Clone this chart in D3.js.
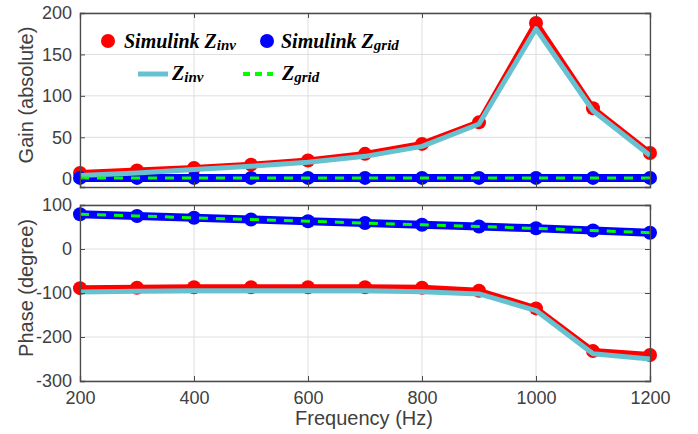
<!DOCTYPE html>
<html><head><meta charset="utf-8">
<script src="https://cdn.jsdelivr.net/npm/d3@7"></script>
<style>body{margin:0;background:#fff}svg{display:block}</style>
</head><body><svg id="c" width="698" height="434"></svg>
<script>
const freq = [200,300,400,500,600,700,800,900,1000,1100,1200];
const gainSimInv = [7,10,13,17,22,30,42,68,188,85,31];
const gainInv = [4,7,11,15,20,27,39,66,181,82,28];
const gainSimGrid = [1,1,1,1,1,1,1,1,1,1,1];
const gainGrid = [1,1,1,1,1,1,1,1,1,1,1];
const phaseSimInv = [-89,-88,-87,-87,-87,-87,-88,-95,-135,-232,-241];
const phaseInv = [-98,-96,-95,-95,-95,-95,-97,-102,-140,-238,-250];
const phaseSimGrid = [79,75,71,67,63,59,55,51,47,42,37];
const phaseGrid = [79,75,71,67,63,59,55,51,47,42,37];
const xTicks = [200,400,600,800,1000,1200];
const gainTicks = [0,50,100,150,200];
const phaseTicks = [-300,-200,-100,0,100];

const svg = d3.select('#c');
const axisCol = '#4a4a4a';
const sansF = 'Liberation Sans, Arial, sans-serif';
const x = d3.scaleLinear().domain([200,1200]).range([80,650]);
const yG = d3.scaleLinear().domain([-10,200]).range([187,13]);
const yP = d3.scaleLinear().domain([-300,100]).range([381,205]);

function panel(y, ticks) {
  const [b,t] = y.range();
  const g = svg.append('g');
  g.selectAll('.gx').data(xTicks).join('line').attr('x1',d=>x(d)).attr('x2',d=>x(d))
    .attr('y1',t).attr('y2',b).attr('stroke','#dedede').attr('stroke-width',1);
  g.selectAll('.gy').data(ticks).join('line').attr('y1',d=>y(d)).attr('y2',d=>y(d))
    .attr('x1',80).attr('x2',650).attr('stroke','#dedede').attr('stroke-width',1);
}
function frame(y, ticks, showX, label) {
  const [b,t] = y.range();
  const g = svg.append('g');
  const ax = g.append('g').attr('transform',`translate(80,0)`).call(d3.axisLeft(y).tickValues(ticks).tickSize(-5).tickPadding(8).tickFormat(d=>String(d)));
  const ax2 = g.append('g').attr('transform',`translate(650,0)`).call(d3.axisRight(y).tickValues(ticks).tickSize(-5).tickFormat(''));
  const bx = g.append('g').attr('transform',`translate(0,${b})`).call(d3.axisBottom(x).tickValues(xTicks).tickSize(-5).tickPadding(10).tickFormat(showX? (d=>String(d)) : ''));
  const tx = g.append('g').attr('transform',`translate(0,${t})`).call(d3.axisTop(x).tickValues(xTicks).tickSize(-5).tickFormat(''));
  [ax,ax2,bx,tx].forEach(a=>{
    a.selectAll('path').attr('stroke',axisCol).attr('stroke-width',1.3);
    a.selectAll('line').attr('stroke',axisCol);
    a.selectAll('text').attr('fill','#404040').style('font-family',sansF).style('font-size','18px');
  });
  g.append('text').attr('transform',`translate(33,${(t+b)/2 - 5}) rotate(-90)`).attr('text-anchor','middle')
    .attr('fill','#404040').style('font-family',sansF).style('font-size','20px').text(label);
}

function series(y, vals, opt) {
  const line = d3.line().x((d,i)=>x(freq[i])).y(d=>y(d));
  svg.append('path').attr('d',line(vals)).attr('fill','none').attr('stroke',opt.color)
    .attr('stroke-width',opt.w).attr('stroke-dasharray',opt.dash||null).attr('stroke-linejoin','round');
  if (opt.marker) {
    svg.append('g').selectAll('circle').data(vals).join('circle')
      .attr('cx',(d,i)=>x(freq[i])).attr('cy',d=>y(d)).attr('r',7).attr('fill',opt.color);
  }
}

panel(yG, gainTicks);
panel(yP, phaseTicks);

series(yG, gainSimInv, {color:'#ff0000', w:6, marker:true});
series(yG, gainSimGrid, {color:'#0000ff', w:8, marker:true});
series(yG, gainInv, {color:'#66c2d0', w:5});
series(yG, gainGrid, {color:'#00ff00', w:3, dash:'9,8'});

series(yP, phaseSimInv, {color:'#ff0000', w:6, marker:true});
series(yP, phaseSimGrid, {color:'#0000ff', w:8, marker:true});
series(yP, phaseInv, {color:'#66c2d0', w:5});
series(yP, phaseGrid, {color:'#00ff00', w:3, dash:'9,8'});

frame(yG, gainTicks, false, 'Gain (absolute)');
frame(yP, phaseTicks, true, 'Phase (degree)');

svg.append('text').attr('x',364).attr('y',425).attr('text-anchor','middle').attr('fill','#404040')
  .style('font-family',sansF).style('font-size','20px').text('Frequency (Hz)');

// legend
const legF = 'Liberation Serif, Times New Roman, serif';
function legText(xp, yp, main, sub) {
  const t = svg.append('text').attr('x',xp).attr('y',yp).attr('fill','#000')
    .style('font-family',legF).style('font-weight','bold').style('font-style','italic').style('font-size','20px');
  t.append('tspan').text(main);
  t.append('tspan').attr('dy',2).style('font-size','15px').text(sub);
}
svg.append('circle').attr('cx',108).attr('cy',41).attr('r',7).attr('fill','#ff0000');
legText(124, 48, 'Simulink Z', 'inv');
svg.append('circle').attr('cx',267).attr('cy',41).attr('r',7).attr('fill','#0000ff');
legText(281, 48, 'Simulink Z', 'grid');
svg.append('line').attr('x1',138).attr('x2',168).attr('y1',74).attr('y2',74).attr('stroke','#66c2d0').attr('stroke-width',5);
legText(172, 80, 'Z', 'inv');
svg.append('line').attr('x1',243).attr('x2',273).attr('y1',74).attr('y2',74).attr('stroke','#00ff00').attr('stroke-width',4).attr('stroke-dasharray','7,5');
legText(282, 80, 'Z', 'grid');
</script></body></html>
